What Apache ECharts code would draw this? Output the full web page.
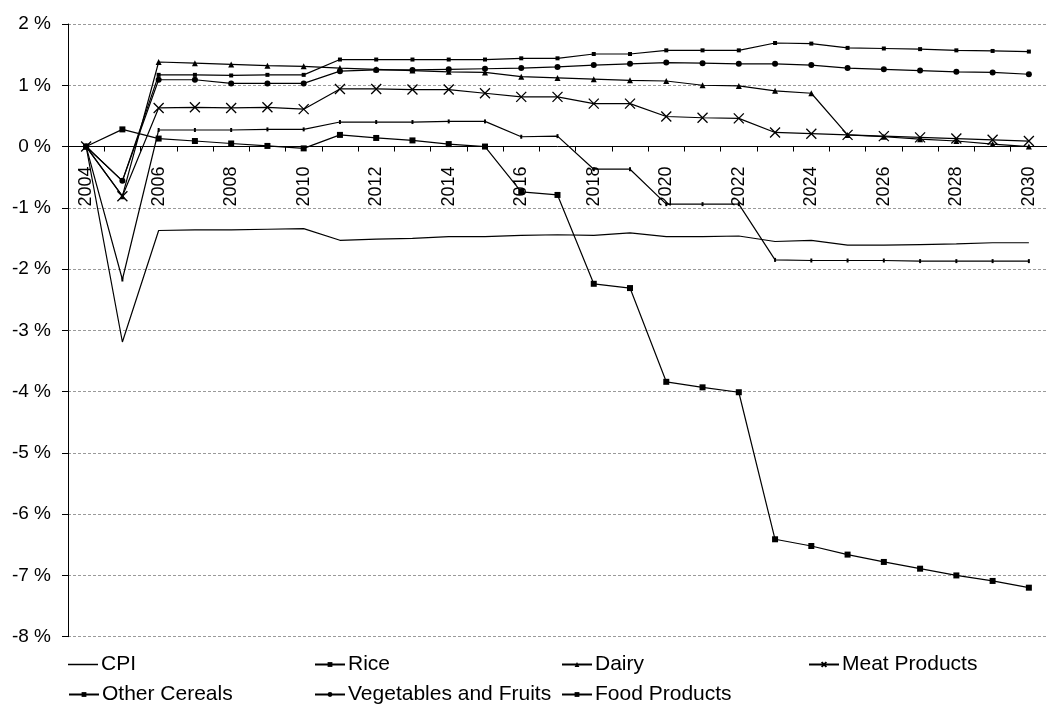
<!DOCTYPE html>
<html>
<head>
<meta charset="utf-8">
<script src="https://cdn.jsdelivr.net/npm/echarts@6/dist/echarts.min.js"></script>
<style>
html,body{margin:0;padding:0;background:#fff;}
#c{width:1047px;height:704px;}
</style>
</head>
<body>
<div id="c"></div>
<script>
var years = ['2004','2005','2006','2007','2008','2009','2010','2011','2012','2013','2014','2015','2016','2017','2018','2019','2020','2021','2022','2023','2024','2025','2026','2027','2028','2029','2030'];
var cpi = [0, -3.19, -1.37, -1.36, -1.36, -1.35, -1.34, -1.53, -1.51, -1.50, -1.47, -1.47, -1.45, -1.44, -1.45, -1.41, -1.47, -1.47, -1.46, -1.55, -1.53, -1.61, -1.61, -1.60, -1.59, -1.57, -1.57];
var rice = [0, 0.28, 0.13, 0.09, 0.05, 0.01, -0.03, 0.19, 0.14, 0.10, 0.04, 0.00, -0.74, -0.79, -2.24, -2.31, -3.84, -3.93, -4.01, -6.41, -6.52, -6.66, -6.78, -6.89, -7.00, -7.09, -7.20];
var dairy = [0, -0.81, 1.38, 1.36, 1.34, 1.32, 1.31, 1.28, 1.26, 1.24, 1.22, 1.21, 1.14, 1.12, 1.10, 1.08, 1.07, 1.00, 0.99, 0.91, 0.87, 0.19, 0.16, 0.12, 0.09, 0.04, 0.00];
var meat = [0, -0.81, 0.63, 0.64, 0.63, 0.64, 0.61, 0.94, 0.94, 0.93, 0.93, 0.87, 0.81, 0.81, 0.70, 0.70, 0.49, 0.47, 0.46, 0.23, 0.21, 0.19, 0.17, 0.15, 0.13, 0.11, 0.09];
var otherCereals = [0, -2.17, 0.27, 0.27, 0.27, 0.28, 0.28, 0.40, 0.40, 0.40, 0.41, 0.41, 0.16, 0.17, -0.37, -0.37, -0.94, -0.94, -0.94, -1.85, -1.86, -1.86, -1.86, -1.87, -1.87, -1.87, -1.87];
var vegFruits = [0, -0.56, 1.09, 1.09, 1.03, 1.03, 1.03, 1.23, 1.25, 1.25, 1.26, 1.27, 1.28, 1.30, 1.33, 1.35, 1.37, 1.36, 1.35, 1.35, 1.33, 1.28, 1.26, 1.24, 1.22, 1.21, 1.18];
var foodProducts = [0, -0.56, 1.17, 1.17, 1.16, 1.17, 1.17, 1.42, 1.42, 1.42, 1.42, 1.42, 1.44, 1.44, 1.51, 1.51, 1.57, 1.57, 1.57, 1.69, 1.68, 1.61, 1.60, 1.59, 1.57, 1.56, 1.55];
var yTicks = {min: -8, max: 2, interval: 1};

var FONT = "'Liberation Sans', Arial, sans-serif";
var GRID_TOP = 24, GRID_H = 612.7;
var chart = echarts.init(document.getElementById('c'), null, {renderer: 'canvas'});

function mkSeries(name, data, symbol, size, extra) {
  var s = {
    name: name, type: 'line', data: data,
    symbol: symbol, symbolSize: size, showSymbol: symbol !== 'none',
    lineStyle: {color: '#000', width: 1.2},
    itemStyle: {color: '#000'},
    emphasis: {disabled: true},
    z: 3
  };
  if (extra) { for (var k in extra) s[k] = extra[k]; }
  return s;
}

function mkLegend(name, left, top, icon) {
  return {
    data: [icon ? {name: name, icon: icon} : name],
    left: left, top: top,
    itemWidth: 30, itemHeight: icon ? 1.5 : 6, itemGap: 4,
    selectedMode: false,
    textStyle: {fontSize: 21, fontFamily: FONT, color: '#000', padding: [0, 0, 0, -2]}
  };
}

// offset that moves the bottom x axis up to the zero line of the value axis
var zeroOffset = -GRID_H * (0 - yTicks.min) / (yTicks.max - yTicks.min);

var option = {
  animation: false,
  backgroundColor: '#fff',
  grid: {left: 68, top: GRID_TOP, width: 987, height: GRID_H, containLabel: false},
  legend: [
    mkLegend('CPI', 63, 649, 'rect'),
    mkLegend('Rice', 309, 649),
    mkLegend('Dairy', 556, 649),
    mkLegend('Meat Products', 803, 649),
    mkLegend('Other Cereals', 63, 679),
    mkLegend('Vegetables and Fruits', 309, 679),
    mkLegend('Food Products', 556, 679)
  ],
  xAxis: {
    type: 'category', data: years, boundaryGap: true,
    position: 'bottom', offset: zeroOffset,
    axisLine: {onZero: false, lineStyle: {color: '#000', width: 1}},
    axisTick: {show: true, interval: 0, length: 5, lineStyle: {color: '#000'}},
    axisLabel: {rotate: 90, interval: 1, margin: 20, fontSize: 18, color: '#000', fontFamily: FONT},
    splitLine: {show: false},
    z: 4
  },
  yAxis: {
    type: 'value', min: yTicks.min, max: yTicks.max, interval: yTicks.interval,
    axisLine: {show: true, lineStyle: {color: '#000', width: 1}},
    axisTick: {show: true, length: 6, lineStyle: {color: '#000'}},
    axisLabel: {formatter: '{value} %', fontSize: 19, margin: 17, color: '#000', fontFamily: FONT},
    splitLine: {show: true, lineStyle: {color: '#9a9a9a', type: [3, 2], width: 1}}
  },
  series: [
    mkSeries('CPI', cpi, 'none', 0),
    mkSeries('Rice', rice, 'rect', 6),
    mkSeries('Dairy', dairy, 'triangle', 6),
    mkSeries('Meat Products', meat, 'path://M0,0L10,10M10,0L0,10', 10, {
      symbolKeepAspect: true,
      itemStyle: {color: 'rgba(0,0,0,0)', borderColor: '#000', borderWidth: 1.3}
    }),
    mkSeries('Other Cereals', otherCereals, 'rect', [2, 4]),
    mkSeries('Vegetables and Fruits', vegFruits, 'circle', 6),
    mkSeries('Food Products', foodProducts, 'rect', 4)
  ]
};
chart.setOption(option);
</script>
</body>
</html>
